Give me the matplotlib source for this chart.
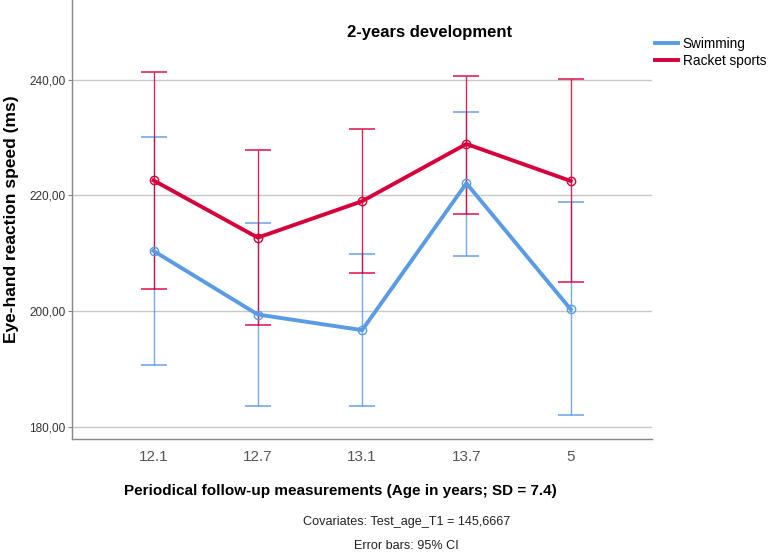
import matplotlib
matplotlib.use("Agg")
import matplotlib.pyplot as plt

plt.rcParams['font.family'] = ['Liberation Sans', 'DejaVu Sans']

ages = ['12.1', '12.7', '13.1', '13.7', '5']
swim_mean = [210.4, 199.4, 196.7, 222.1, 200.3]
swim_low = [190.6, 183.6, 183.6, 209.5, 182.0]
swim_high = [230.1, 215.3, 209.8, 234.5, 218.8]
racket_mean = [222.6, 212.7, 219.0, 228.9, 222.5]
racket_low = [203.8, 197.6, 206.5, 216.8, 205.1]
racket_high = [241.4, 227.8, 231.5, 240.7, 240.1]

blue = '#5A9BE6'
red = '#D6003A'

fig = plt.figure(figsize=(7.68, 5.52), dpi=100)
ax = fig.add_axes([0.094, 0.205, 0.755, 0.795])

x = list(range(len(ages)))
for mean, lo, hi, col, lab in [(swim_mean, swim_low, swim_high, blue, 'Swimming'),
                               (racket_mean, racket_low, racket_high, red, 'Racket sports')]:
    err = [[m - l for m, l in zip(mean, lo)], [h - m for m, h in zip(mean, hi)]]
    ax.errorbar(x, mean, yerr=err, fmt='none', ecolor=col, elinewidth=1,
                capsize=9.5, capthick=1.2, alpha=0.85, zorder=2)
    ax.plot(x, mean, color=col, lw=2.8, label=lab, zorder=3)
    ax.plot(x, mean, 'o', ms=6, mfc='none', mec=col, mew=1, zorder=4)

ax.set_xlim(-0.78, 4.78)
ax.set_ylim(177.9, 253.8)
ax.set_yticks([180, 200, 220, 240])
ax.set_yticklabels(['180,00', '200,00', '220,00', '240,00'], fontsize=8.5, color='#333333')
ax.set_xticks(x)
ax.set_xticklabels(ages, fontsize=11, color='#555555')
ax.tick_params(axis='x', length=0, pad=8)
ax.tick_params(axis='y', length=3, color='#888888', pad=2)
ax.grid(axis='y', color='#c8c8c8', lw=1)
ax.set_axisbelow(True)
for s in ['top', 'right']:
    ax.spines[s].set_visible(False)
for s in ['left', 'bottom']:
    ax.spines[s].set_color('#888888')
    ax.spines[s].set_linewidth(1)

ax.text(0.616, 0.925, '2-years development', transform=ax.transAxes,
        ha='center', va='center', fontsize=12, fontweight='bold')
ax.set_ylabel('Eye-hand reaction speed (ms)', fontsize=12.5, fontweight='bold')
ax.yaxis.set_label_coords(-0.091, 0.5)
ax.set_xlabel('Periodical follow-up measurements (Age in years; SD = 7.4)',
              fontsize=11, fontweight='bold')
ax.xaxis.set_label_coords(0.462, -0.103)

ax.legend(loc='upper left', bbox_to_anchor=(1.0, 0.923), frameon=False, fontsize=9.8,
          handlelength=1.7, handletextpad=0.35, labelspacing=0.25, borderaxespad=0.0,
          borderpad=0.2)

fig.text(0.529, 0.055, 'Covariates: Test_age_T1 = 145,6667', ha='center', va='center',
         fontsize=9.1, color='#222222')
fig.text(0.529, 0.011, 'Error bars: 95% CI', ha='center', va='center',
         fontsize=9.1, color='#222222')

fig.savefig('out.png', dpi=100)
